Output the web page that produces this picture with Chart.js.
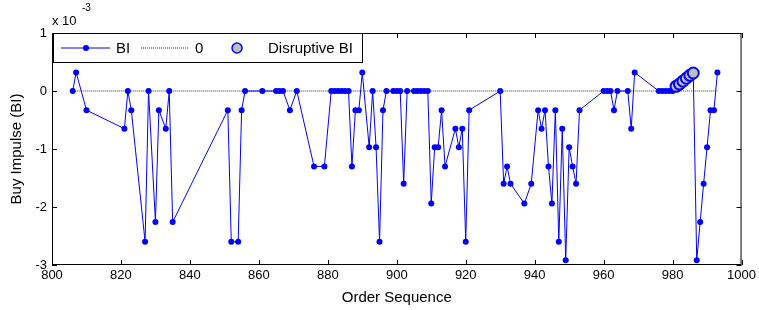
<!DOCTYPE html>
<html>
<head>
<meta charset="utf-8">
<script src="https://cdn.jsdelivr.net/npm/chart.js@4/dist/chart.umd.min.js"></script>
<style>
  html, body { margin: 0; padding: 0; background: #fff; }
  #wrap { width: 759px; height: 310px; }
</style>
</head>
<body>
<div id="wrap"><canvas id="chart" width="759" height="310"></canvas></div>
<script>
// order sequence numbers and buy impulse (in units of 1e-3)
const orderSeq = [
  806, 807, 810, 821, 822, 823, 827, 828, 830, 831, 833, 834, 835, 851, 852, 854, 855, 856,
  861, 865, 866, 867, 869, 871, 876, 879, 881, 882, 883, 884, 885, 886, 887, 888, 889, 890,
  892, 893, 894, 895, 896, 897, 899, 900, 901, 902, 903, 905, 906, 907, 908, 909, 910, 911,
  912, 913, 914, 917, 918, 919, 920, 921, 930, 931, 932, 933, 937, 939, 941, 942, 943, 944,
  945, 946, 947, 948, 949, 950, 951, 952, 953, 960, 961, 962, 963, 964, 967, 968, 969, 976,
  977, 978, 979, 980, 981, 982, 983, 984, 985, 986, 987, 988, 989, 990, 991, 992, 993
];
const buyImpulse = [
  0, 0.32, -0.33, -0.65, 0, -0.33, -2.6, 0, -2.26, -0.33, -0.65, 0, -2.26, -0.33, -2.6, -2.6, -0.33, 0,
  0, 0, 0, 0, -0.33, 0, -1.3, -1.3, 0, 0, 0, 0, 0, 0, -1.3, -0.33, -0.33, 0.32,
  -0.97, 0, -0.97, -2.6, -0.33, 0, 0, 0, 0, -1.6, 0, 0, 0, 0, 0, 0, -1.94, -0.97,
  -0.97, -0.33, -1.3, -0.65, -0.97, -0.65, -2.6, -0.33, 0, -1.6, -1.3, -1.6, -1.94, -1.6, -0.33, -0.65, -0.33, -1.3,
  -1.94, -0.33, -2.6, -0.65, -2.92, -0.97, -1.3, -1.6, -0.33, 0, 0, 0, -0.33, 0, 0, -0.65, 0.32, 0,
  0, 0, 0, 0, 0.08, 0.12, 0.17, 0.22, 0.27, 0.31, -2.92, -2.26, -1.6, -0.97, -0.33, -0.33, 0.32
];
const disruptSeq = [981, 982, 983, 984, 985, 986];
const disruptBI = [0.08, 0.12, 0.17, 0.22, 0.27, 0.31];
const zeroSeq = [806, 993];
const zeroBI = [0, 0];

const xTicks = [800, 820, 840, 860, 880, 900, 920, 940, 960, 980, 1000];
const yTicks = [-3, -2, -1, 0, 1];

const FONT = '"Liberation Sans", Arial, sans-serif';

function toPoints(xs, ys) {
  return xs.map((x, i) => ({ x: x, y: ys[i] }));
}

// box, inward ticks, exponent label and legend, drawn like the matlab figure
const matlabFrame = {
  id: 'matlabFrame',
  afterDraw(chart) {
    const ctx = chart.ctx;
    const a = chart.chartArea;
    const xs = chart.scales.x, ys = chart.scales.y;
    const tl = 5;
    ctx.save();
    ctx.strokeStyle = '#000';
    ctx.lineWidth = 1;
    ctx.strokeRect(a.left + 0.5, a.top + 0.5, a.right - a.left - 1, a.bottom - a.top - 1);
    ctx.beginPath();
    xTicks.forEach(v => {
      const px = Math.round(xs.getPixelForValue(v)) + 0.5;
      ctx.moveTo(px, a.bottom); ctx.lineTo(px, a.bottom - tl);
      ctx.moveTo(px, a.top); ctx.lineTo(px, a.top + tl);
    });
    yTicks.forEach(v => {
      const py = Math.round(ys.getPixelForValue(v)) + 0.5;
      ctx.moveTo(a.left, py); ctx.lineTo(a.left + tl, py);
      ctx.moveTo(a.right, py); ctx.lineTo(a.right - tl, py);
    });
    ctx.stroke();

    // x 10^-3
    ctx.fillStyle = '#000';
    ctx.textBaseline = 'alphabetic';
    ctx.textAlign = 'left';
    ctx.font = '13px ' + FONT;
    ctx.fillText('x 10', 52, 25);
    ctx.font = '10px ' + FONT;
    ctx.fillText('-3', 82, 11);

    // legend
    const lx = 53, ly = 33, lw = 309, lh = 29;
    ctx.fillStyle = '#fff';
    ctx.fillRect(lx, ly, lw, lh);
    ctx.strokeStyle = '#000';
    ctx.strokeRect(lx + 0.5, ly + 0.5, lw, lh);
    const cy = ly + 15;
    ctx.strokeStyle = 'blue';
    ctx.beginPath(); ctx.moveTo(61, cy); ctx.lineTo(110, cy); ctx.stroke();
    ctx.fillStyle = 'blue';
    ctx.beginPath(); ctx.arc(86, cy, 3, 0, Math.PI * 2); ctx.fill();
    ctx.strokeStyle = '#333';
    ctx.setLineDash([1, 1]);
    ctx.beginPath(); ctx.moveTo(141, cy); ctx.lineTo(188, cy); ctx.stroke();
    ctx.setLineDash([]);
    ctx.fillStyle = '#bfbfbf';
    ctx.strokeStyle = 'blue';
    ctx.lineWidth = 1.5;
    ctx.beginPath(); ctx.arc(237, cy, 5, 0, Math.PI * 2); ctx.fill(); ctx.stroke();
    ctx.fillStyle = '#000';
    ctx.font = '15px ' + FONT;
    ctx.textBaseline = 'middle';
    ctx.fillText('BI', 116, cy + 1);
    ctx.fillText('0', 195, cy + 1);
    ctx.fillText('Disruptive BI', 268, cy + 1);
    ctx.restore();
  }
};

new Chart(document.getElementById('chart'), {
  type: 'scatter',
  data: {
    datasets: [
      {
        label: '0',
        data: toPoints(zeroSeq, zeroBI),
        showLine: true,
        borderColor: '#333',
        borderWidth: 1,
        borderDash: [1, 1],
        pointRadius: 0,
        order: 3
      },
      {
        label: 'BI',
        data: toPoints(orderSeq, buyImpulse),
        showLine: true,
        borderColor: 'blue',
        borderWidth: 1,
        backgroundColor: 'blue',
        pointBackgroundColor: 'blue',
        pointBorderWidth: 0,
        pointRadius: 3,
        order: 2
      },
      {
        label: 'Disruptive BI',
        data: toPoints(disruptSeq, disruptBI),
        showLine: false,
        pointBackgroundColor: '#bfbfbf',
        pointBorderColor: 'blue',
        pointBorderWidth: 2,
        pointRadius: 5.5,
        order: 1
      }
    ]
  },
  options: {
    responsive: false,
    animation: false,
    events: [],
    layout: { padding: { top: 33, right: 15, bottom: 0, left: 0 } },
    plugins: {
      legend: { display: false },
      tooltip: { enabled: false }
    },
    scales: {
      x: {
        type: 'linear',
        min: 800,
        max: 1000,
        afterBuildTicks: s => { s.ticks = xTicks.map(v => ({ value: v })); },
        afterFit: s => { s.height = 45; },
        grid: { display: false, drawTicks: false },
        border: { display: false },
        ticks: { color: '#000', font: { family: FONT, size: 13 }, padding: 3, maxRotation: 0, callback: v => String(v) },
        title: { display: true, text: 'Order Sequence', color: '#000', font: { family: FONT, size: 15 }, padding: { top: 0, bottom: 3 } }
      },
      y: {
        type: 'linear',
        min: -3,
        max: 1,
        afterBuildTicks: s => { s.ticks = yTicks.map(v => ({ value: v })); },
        afterFit: s => { s.width = 52; },
        grid: { display: false, drawTicks: false },
        border: { display: false },
        ticks: { color: '#000', font: { family: FONT, size: 13 }, padding: 5, callback: v => String(v) },
        title: { display: true, text: 'Buy Impulse (BI)', color: '#000', font: { family: FONT, size: 15 }, padding: { top: 8, bottom: 0 } }
      }
    }
  },
  plugins: [matlabFrame]
});
</script>
</body>
</html>
